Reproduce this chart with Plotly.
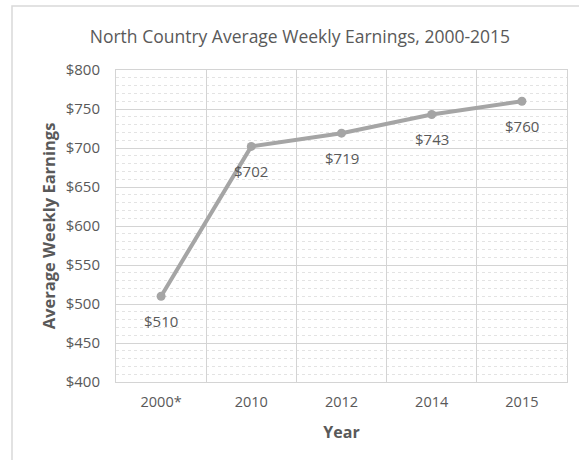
import plotly.graph_objects as go

years = ["2000*", "2010", "2012", "2014", "2015"]
earnings = [510, 702, 719, 743, 760]

FONT = "Open Sans"
GREY_TXT = "#595959"

fig = go.Figure()
fig.add_trace(go.Scatter(
    x=years, y=earnings,
    mode="lines+markers",
    line=dict(color="#a5a5a5", width=4),
    marker=dict(color="#a5a5a5", size=9),
    showlegend=False,
))

# data labels sit below each point (Excel "below" style)
# category index used for x, otherwise "2010" is read as a numeric position
for i, val in enumerate(earnings):
    fig.add_annotation(x=i, y=val, text=f"${val}", showarrow=False,
                       yshift=-25, font=dict(family=FONT, size=15, color=GREY_TXT))

fig.update_layout(
    width=579, height=460,
    margin=dict(l=116, r=12, t=70, b=78),
    paper_bgcolor="white", plot_bgcolor="white",
    title=dict(text="North Country Average Weekly Earnings, 2000-2015",
               x=0.518, xanchor="center", y=0.92, yanchor="middle",
               font=dict(family=FONT, size=17.5, color=GREY_TXT)),
    font=dict(family=FONT, color=GREY_TXT),
)

fig.update_xaxes(
    type="category", tickson="boundaries", range=[-0.5, 4.5],
    showgrid=True, gridcolor="#d4d4d4", gridwidth=1,
    showline=True, linecolor="#d4d4d4", mirror=True,
    ticks="", ticklabelstandoff=7, tickfont=dict(size=14.5, color=GREY_TXT),
    title=dict(text="<b>Year</b>", font=dict(size=16, color=GREY_TXT), standoff=16),
)
fig.update_yaxes(
    range=[400, 800], dtick=50, tickprefix="$",
    showgrid=True, gridcolor="#d4d4d4", gridwidth=1,
    minor=dict(dtick=10, showgrid=True, gridcolor="#e3e3e3", griddash="dot"),
    showline=True, linecolor="#d4d4d4", mirror=True,
    zeroline=False, ticks="", ticklabelstandoff=12, tickfont=dict(size=15, color=GREY_TXT),
    title=dict(text="<b>Average Weekly Earnings</b>", font=dict(size=16.5, color=GREY_TXT), standoff=5),
)

# light frame around the chart (only top and left edges show in the image)
fig.add_shape(type="rect", xref="paper", yref="paper",
              x0=-0.2306, x1=1.2, y0=-0.5, y1=1.205,
              line=dict(color="#d9d9d9", width=1.5), layer="below")

fig.write_html("out.html", config={"displayModeBar": False},
               post_script="document.body.style.margin='0';")
